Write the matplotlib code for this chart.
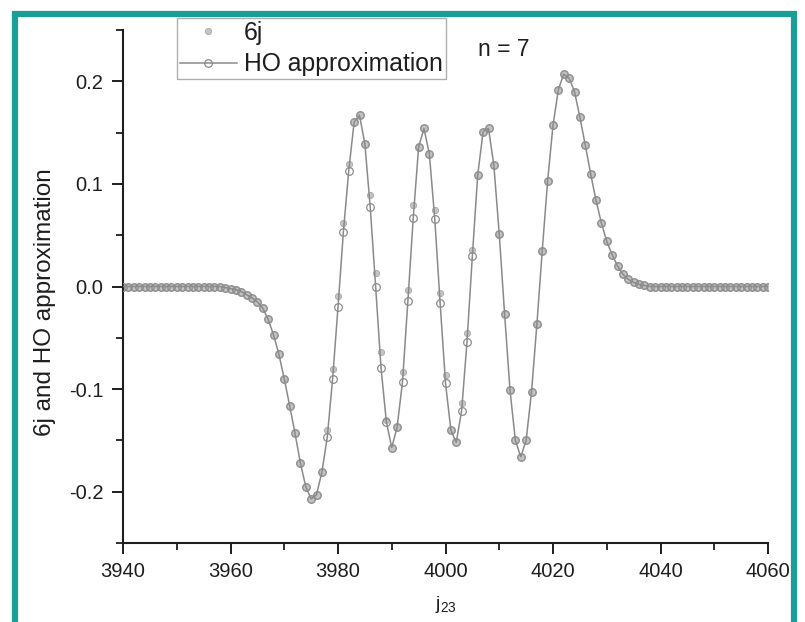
import numpy as np
import matplotlib
matplotlib.use("Agg")
import matplotlib.pyplot as plt
from matplotlib.patches import Rectangle
from matplotlib.ticker import MultipleLocator, FormatStrFormatter

plt.rcParams['font.family'] = ['Liberation Sans', 'DejaVu Sans']

# ---- data ----
j_values = list(range(3940, 4061))

six_j_left_tail = [0.0] * 19 + [-0.001]           # 3940 .. 3959
six_j_core = [                                    # 3960 .. 4037
    -0.002, -0.003, -0.005, -0.008, -0.011, -0.015, -0.021, -0.032, -0.047, -0.066,
    -0.090, -0.116, -0.143, -0.172, -0.195, -0.207, -0.203, -0.181, -0.140, -0.080,
    -0.009, 0.062, 0.119, 0.160, 0.167, 0.139, 0.089, 0.013, -0.064, -0.130,
    -0.157, -0.137, -0.083, -0.003, 0.079, 0.136, 0.154, 0.129, 0.075, -0.006,
    -0.086, -0.140, -0.152, -0.114, -0.045, 0.036, 0.109, 0.151, 0.154, 0.118,
    0.051, -0.027, -0.101, -0.150, -0.166, -0.150, -0.103, -0.037, 0.035, 0.103,
    0.157, 0.192, 0.207, 0.203, 0.190, 0.165, 0.138, 0.110, 0.084, 0.062,
    0.044, 0.031, 0.020, 0.012, 0.007, 0.004, 0.002, 0.001,
]
six_j_right_tail = [0.0] * 23                      # 4038 .. 4060

ho_core = [                                        # 3960 .. 4037
    -0.002, -0.003, -0.005, -0.008, -0.011, -0.015, -0.021, -0.032, -0.047, -0.066,
    -0.090, -0.116, -0.143, -0.172, -0.195, -0.207, -0.203, -0.181, -0.147, -0.090,
    -0.020, 0.053, 0.113, 0.160, 0.167, 0.139, 0.077, 0.000, -0.079, -0.132,
    -0.157, -0.137, -0.093, -0.014, 0.067, 0.136, 0.154, 0.129, 0.066, -0.016,
    -0.094, -0.140, -0.152, -0.121, -0.054, 0.030, 0.109, 0.151, 0.154, 0.118,
    0.051, -0.027, -0.101, -0.150, -0.166, -0.150, -0.103, -0.037, 0.035, 0.103,
    0.157, 0.192, 0.207, 0.203, 0.190, 0.165, 0.138, 0.110, 0.084, 0.062,
    0.044, 0.031, 0.020, 0.012, 0.007, 0.004, 0.002, 0.001,
]

six_j = six_j_left_tail + six_j_core + six_j_right_tail
ho_approx = six_j_left_tail + ho_core + six_j_right_tail

x_ticks = [3940, 3960, 3980, 4000, 4020, 4040, 4060]
y_ticks = [-0.2, -0.1, 0.0, 0.1, 0.2]

# ---- figure ----
W, H = 805, 622
fig = plt.figure(figsize=(W / 100, H / 100), dpi=100)
ax = fig.add_axes([123 / W, 1 - 543 / H, (768 - 123) / W, (543 - 30) / H])

txt = '#1e1e1e'
ax.plot(j_values, six_j, ls='none', marker='o', ms=4.5, mfc='#c4c4c4',
        mec='#a8a8a8', mew=0.6, label='6j', zorder=2)
ax.plot(j_values, ho_approx, color='#8a8a8a', lw=1.1, marker='o', ms=5.5,
        mfc='none', mec='#8c8c8c', mew=0.9, label='HO approximation', zorder=3)

ax.set_xlim(3940, 4060)
ax.set_ylim(-0.25, 0.25)
ax.set_xticks(x_ticks)
ax.set_yticks(y_ticks)
ax.xaxis.set_minor_locator(MultipleLocator(10))
ax.yaxis.set_minor_locator(MultipleLocator(0.05))
ax.yaxis.set_major_formatter(FormatStrFormatter('%.1f'))

for s in ['top', 'right']:
    ax.spines[s].set_visible(False)
for s in ['left', 'bottom']:
    ax.spines[s].set_linewidth(1.5)
    ax.spines[s].set_color(txt)

ax.tick_params(which='major', direction='out', length=8, width=1.4,
               labelsize=14.5, colors=txt, pad=6)
ax.tick_params(which='minor', direction='out', length=5, width=1.3, colors=txt)

ax.set_ylabel('6j and HO approximation', fontsize=17.5, color=txt)
ax.yaxis.set_label_coords((56 - 123) / 645, (543 - 302) / 513)
ax.set_xlabel(r'$\mathregular{j_{23}}$', fontsize=14, color=txt, labelpad=9)

leg = ax.legend(loc='upper left',
                bbox_to_anchor=(177 / W, 1 - 18 / H), bbox_transform=fig.transFigure,
                fontsize=17.8, frameon=True, fancybox=False, borderaxespad=0,
                borderpad=0.12, labelspacing=0.3, handlelength=2.3,
                handletextpad=0.3)
leg.get_frame().set_edgecolor('#9a9a9a')
leg.get_frame().set_linewidth(1.0)
for t in leg.get_texts():
    t.set_color(txt)

fig.text(478 / W, 1 - 50 / H, 'n = 7', fontsize=16.5, color=txt,
         ha='left', va='center')

# teal frame
fig.patches.append(Rectangle((15 / W, -0.2), (794 - 15) / W, 1.2 - 14 / H,
                             transform=fig.transFigure, fill=False,
                             edgecolor='#1b9e97', lw=4.5, zorder=10))

fig.savefig('out.png', dpi=100)
